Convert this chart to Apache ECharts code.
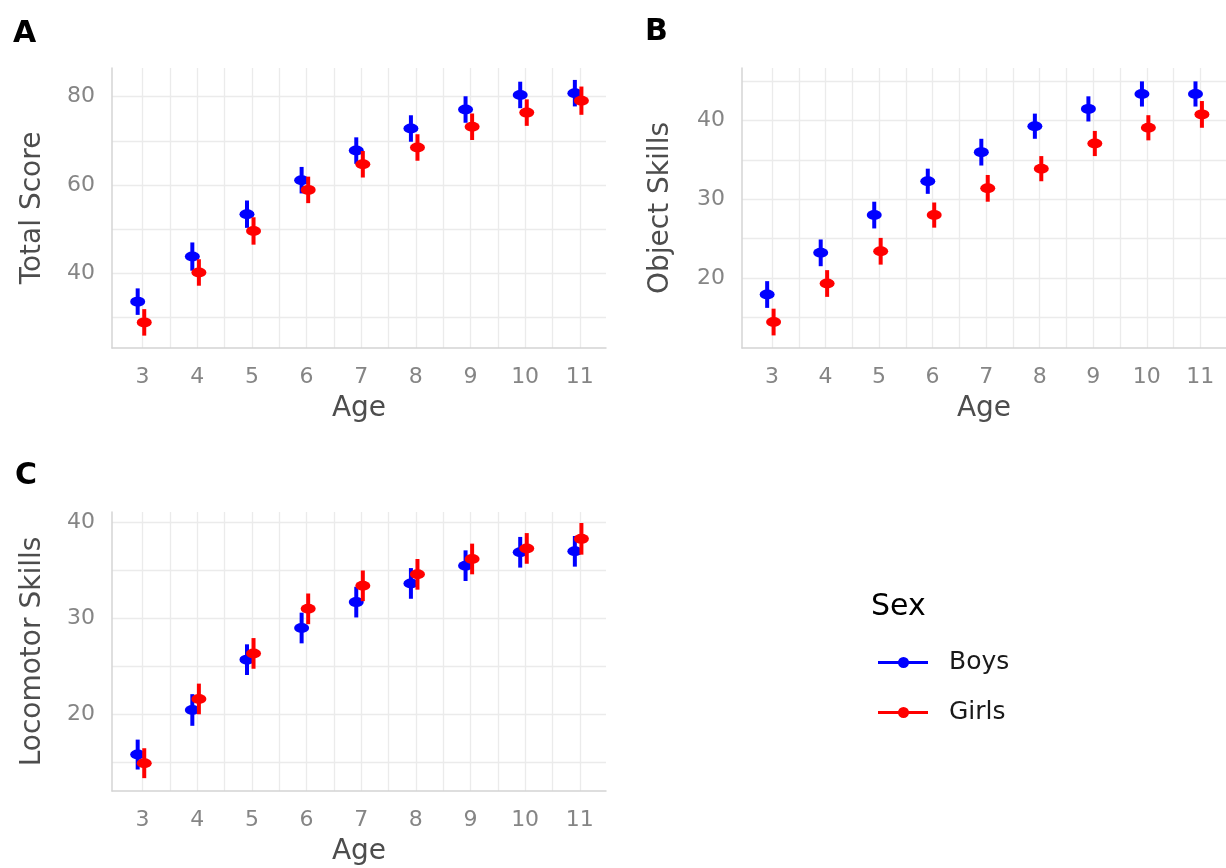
<!DOCTYPE html>
<html lang="en">
<head>
<meta charset="UTF-8">
<title>Motor skills by age and sex</title>
<script src="https://cdn.jsdelivr.net/npm/echarts@6/dist/echarts.min.js"></script>
<style>
  html, body { margin: 0; padding: 0; background: #fff; }
  #chart { width: 1226px; height: 868px; }
</style>
</head>
<body>
<div id="chart"></div>
<script>
// ---- data ----
var ages = [3, 4, 5, 6, 7, 8, 9, 10, 11];

var totalBoys  = [33.6, 43.8, 53.4, 61.1, 67.8, 72.8, 77.1, 80.4, 80.8];
var totalGirls = [28.9, 40.2, 49.6, 58.9, 64.7, 68.5, 73.2, 76.4, 79.1];
var totalBoysErr  = [3.0, 3.2, 3.1, 3.0, 3.0, 3.0, 3.0, 3.0, 3.0];
var totalGirlsErr = [3.0, 3.0, 3.1, 3.0, 3.0, 3.0, 3.0, 3.0, 3.2];

var objectBoys  = [17.9, 23.2, 28.0, 32.3, 36.0, 39.3, 41.5, 43.4, 43.4];
var objectGirls = [14.4, 19.3, 23.4, 28.0, 31.4, 33.9, 37.1, 39.1, 40.8];
var objectBoysErr  = [1.7, 1.7, 1.7, 1.6, 1.7, 1.6, 1.6, 1.6, 1.6];
var objectGirlsErr = [1.7, 1.7, 1.7, 1.6, 1.7, 1.6, 1.6, 1.6, 1.7];

var locoBoys  = [15.8, 20.45, 25.7, 29.0, 31.7, 33.65, 35.5, 36.9, 37.0];
var locoGirls = [14.9, 21.6, 26.35, 31.0, 33.4, 34.6, 36.2, 37.3, 38.3];
var locoBoysErr  = [1.56, 1.65, 1.6, 1.6, 1.6, 1.6, 1.6, 1.6, 1.6];
var locoGirlsErr = [1.56, 1.6, 1.6, 1.6, 1.6, 1.6, 1.6, 1.6, 1.65];

var xTickLabels = [3, 4, 5, 6, 7, 8, 9, 10, 11];
var xGridValues = [3, 3.5, 4, 4.5, 5, 5.5, 6, 6.5, 7, 7.5, 8, 8.5, 9, 9.5, 10, 10.5, 11];
var totalTicks  = [40, 60, 80];
var totalGrid   = [30, 40, 50, 60, 70, 80];
var objectTicks = [20, 30, 40];
var objectGrid  = [15, 20, 25, 30, 35, 40, 45];
var locoTicks   = [20, 30, 40];
var locoGrid    = [15, 20, 25, 30, 35, 40];

var sexNames = ['Boys', 'Girls'];

// ---- styling ----
var FONT = 'DejaVu Sans';
var BLUE = '#0000ff';
var RED = '#ff0000';
var DODGE_BOYS = -0.09;
var DODGE_GIRLS = 0.03;

function rows(means, errs, dodge) {
  return ages.map(function (a, i) {
    return [a + dodge, means[i], means[i] - errs[i], means[i] + errs[i]];
  });
}

function renderItem(params, api) {
  var x = api.value(0);
  var mid = api.coord([x, api.value(1)]);
  var lo = api.coord([x, api.value(2)]);
  var hi = api.coord([x, api.value(3)]);
  var color = api.visual('color');
  return {
    type: 'group',
    children: [
      { type: 'line', shape: { x1: hi[0], y1: hi[1], x2: lo[0], y2: lo[1] },
        style: { stroke: color, lineWidth: 4 } },
      { type: 'circle', x: mid[0], y: mid[1], scaleX: 1.5,
        shape: { cx: 0, cy: 0, r: 5 }, style: { fill: color } }
    ]
  };
}

function xAxis(idx) {
  return {
    type: 'value', gridIndex: idx, min: 2.44, max: 11.48,
    name: 'Age', nameLocation: 'middle', nameGap: 47,
    nameTextStyle: { fontFamily: FONT, fontSize: 28, color: '#4d4d4d' },
    axisLine: { show: true, lineStyle: { color: '#d4d4d4', width: 1.5 } },
    axisTick: { show: false, customValues: xGridValues },
    axisLabel: { customValues: xTickLabels, margin: 18,
      fontFamily: FONT, fontSize: 22, color: '#858585' },
    splitLine: { show: true, lineStyle: { color: '#ebebeb', width: 1.3 } }
  };
}

function yAxis(idx, name, min, max, ticks, grid, gap) {
  return {
    type: 'value', gridIndex: idx, min: min, max: max,
    name: name, nameLocation: 'middle', nameGap: gap,
    nameTextStyle: { fontFamily: FONT, fontSize: 28, color: '#4d4d4d' },
    axisLine: { show: true, lineStyle: { color: '#d4d4d4', width: 1.5 } },
    axisTick: { show: false, customValues: grid },
    axisLabel: { customValues: ticks, margin: 17,
      fontFamily: FONT, fontSize: 22, color: '#858585' },
    splitLine: { show: true, lineStyle: { color: '#ebebeb', width: 1.3 } }
  };
}

function series(name, idx, data, color) {
  return {
    name: name, type: 'custom', xAxisIndex: idx, yAxisIndex: idx,
    renderItem: renderItem, data: data, silent: true,
    itemStyle: { color: color }, clip: false, animation: false
  };
}

var chart = echarts.init(document.getElementById('chart'));

var option = {
  backgroundColor: '#ffffff',
  animation: false,
  title: [
    { text: 'A', left: 8, top: 14, textStyle: { fontFamily: FONT, fontSize: 30, fontWeight: 'bold', color: '#000' } },
    { text: 'B', left: 640, top: 12, textStyle: { fontFamily: FONT, fontSize: 30, fontWeight: 'bold', color: '#000' } },
    { text: 'C', left: 10, top: 456, textStyle: { fontFamily: FONT, fontSize: 30, fontWeight: 'bold', color: '#000' } }
  ],
  grid: [
    { left: 112, right: 620, top: 68, height: 280 },
    { left: 742, right: -10, top: 68, height: 280 },
    { left: 112, right: 620, top: 512, height: 279 }
  ],
  xAxis: [xAxis(0), xAxis(1), xAxis(2)],
  yAxis: [
    yAxis(0, 'Total Score', 23.1, 86.5, totalTicks, totalGrid, 65),
    yAxis(1, 'Object Skills', 11.1, 46.7, objectTicks, objectGrid, 67),
    yAxis(2, 'Locomotor Skills', 12.0, 41.1, locoTicks, locoGrid, 65)
  ],
  legend: {
    data: sexNames, orient: 'vertical', left: 873, top: 645,
    itemWidth: 50, itemHeight: 11, itemGap: 25,
    icon: 'path://M0,4 L50,4 L50,7 L0,7 Z M20,5.5 A5.5,5.5 0 1 1 31,5.5 A5.5,5.5 0 1 1 20,5.5 Z',
    textStyle: { fontFamily: FONT, fontSize: 25, color: '#1a1a1a', padding: [0, 0, 0, 16] },
    selectedMode: false
  },
  graphic: [
    { type: 'text', left: 871, top: 592,
      style: { text: 'Sex', fontFamily: FONT, fontSize: 30, fill: '#000' } }
  ],
  series: [
    series(sexNames[0], 0, rows(totalBoys, totalBoysErr, DODGE_BOYS), BLUE),
    series(sexNames[1], 0, rows(totalGirls, totalGirlsErr, DODGE_GIRLS), RED),
    series(sexNames[0], 1, rows(objectBoys, objectBoysErr, DODGE_BOYS), BLUE),
    series(sexNames[1], 1, rows(objectGirls, objectGirlsErr, DODGE_GIRLS), RED),
    series(sexNames[0], 2, rows(locoBoys, locoBoysErr, DODGE_BOYS), BLUE),
    series(sexNames[1], 2, rows(locoGirls, locoGirlsErr, DODGE_GIRLS), RED)
  ]
};

chart.setOption(option);
</script>
</body>
</html>
